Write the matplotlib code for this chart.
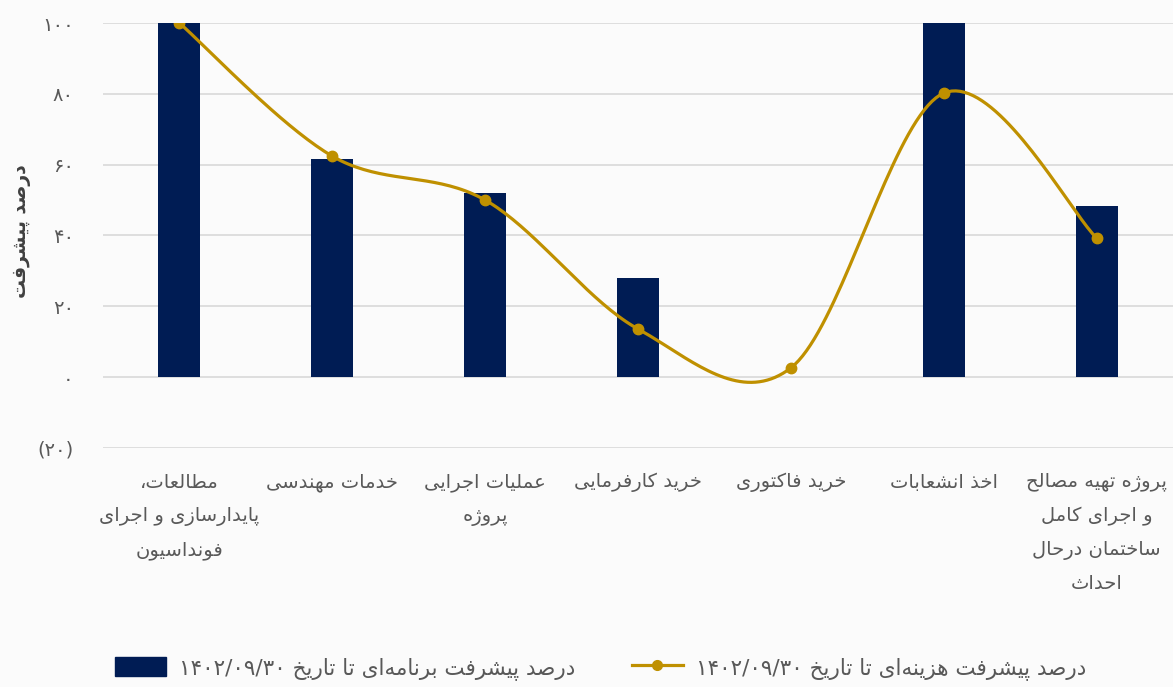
import numpy as np
import matplotlib
matplotlib.use('Agg')
import matplotlib.pyplot as plt
from matplotlib.lines import Line2D
from matplotlib.patches import Patch

# داده‌ها
categories = [
    'مطالعات،\nپایدارسازی و اجرای\nفونداسیون',
    'خدمات مهندسی',
    'عملیات اجرایی\nپروژه',
    'خرید کارفرمایی',
    'خرید فاکتوری',
    'اخذ انشعابات',
    'پروژه تهیه مصالح\nو اجرای کامل\nساختمان درحال\nاحداث',
]
plan_progress = [100, 61.6, 52, 28, 0, 100, 48.3]
cost_progress = [100, 62.4, 50, 13.6, 2.6, 80.2, 39.3]
y_ticks = [-20, 0, 20, 40, 60, 80, 100]
y_ticklabels = ['(۲۰)', '۰', '۲۰', '۴۰', '۶۰', '۸۰', '۱۰۰']
y_title = 'درصد پیشرفت'
legend_plan = 'درصد پیشرفت برنامه‌ای تا تاریخ ۱۴۰۲/۰۹/۳۰'
legend_cost = 'درصد پیشرفت هزینه‌ای تا تاریخ ۱۴۰۲/۰۹/۳۰'

# شکل‌دهی حروف فارسی (matplotlib خودش اتصال حروف را انجام نمی‌دهد)
FORMS = {
    'ا': (0xFE8D, 0xFE8E), 'آ': (0xFE81, 0xFE82),
    'د': (0xFEA9, 0xFEAA), 'ذ': (0xFEAB, 0xFEAC),
    'ر': (0xFEAD, 0xFEAE), 'ز': (0xFEAF, 0xFEB0),
    'ژ': (0xFB8A, 0xFB8B), 'و': (0xFEED, 0xFEEE),
    'ب': (0xFE8F, 0xFE90, 0xFE91, 0xFE92), 'پ': (0xFB56, 0xFB57, 0xFB58, 0xFB59),
    'ت': (0xFE95, 0xFE96, 0xFE97, 0xFE98), 'ث': (0xFE99, 0xFE9A, 0xFE9B, 0xFE9C),
    'ج': (0xFE9D, 0xFE9E, 0xFE9F, 0xFEA0), 'چ': (0xFB7A, 0xFB7B, 0xFB7C, 0xFB7D),
    'ح': (0xFEA1, 0xFEA2, 0xFEA3, 0xFEA4), 'خ': (0xFEA5, 0xFEA6, 0xFEA7, 0xFEA8),
    'س': (0xFEB1, 0xFEB2, 0xFEB3, 0xFEB4), 'ش': (0xFEB5, 0xFEB6, 0xFEB7, 0xFEB8),
    'ص': (0xFEB9, 0xFEBA, 0xFEBB, 0xFEBC), 'ض': (0xFEBD, 0xFEBE, 0xFEBF, 0xFEC0),
    'ط': (0xFEC1, 0xFEC2, 0xFEC3, 0xFEC4), 'ظ': (0xFEC5, 0xFEC6, 0xFEC7, 0xFEC8),
    'ع': (0xFEC9, 0xFECA, 0xFECB, 0xFECC), 'غ': (0xFECD, 0xFECE, 0xFECF, 0xFED0),
    'ف': (0xFED1, 0xFED2, 0xFED3, 0xFED4), 'ق': (0xFED5, 0xFED6, 0xFED7, 0xFED8),
    'ک': (0xFB8E, 0xFB8F, 0xFB90, 0xFB91), 'گ': (0xFB92, 0xFB93, 0xFB94, 0xFB95),
    'ل': (0xFEDD, 0xFEDE, 0xFEDF, 0xFEE0), 'م': (0xFEE1, 0xFEE2, 0xFEE3, 0xFEE4),
    'ن': (0xFEE5, 0xFEE6, 0xFEE7, 0xFEE8), 'ه': (0xFEE9, 0xFEEA, 0xFEEB, 0xFEEC),
    'ی': (0xFBFC, 0xFBFD, 0xFBFE, 0xFBFF), 'ئ': (0xFE89, 0xFE8A, 0xFE8B, 0xFE8C),
}
DIGITS = set('۰۱۲۳۴۵۶۷۸۹0123456789')


def shape_line(s):
    out = []
    for i, ch in enumerate(s):
        if ch not in FORMS:
            if ch != '\u200c':
                out.append(ch)
            continue
        prev = s[i - 1] if i > 0 else ''
        nxt = s[i + 1] if i + 1 < len(s) else ''
        join_prev = prev in FORMS and len(FORMS[prev]) == 4
        join_next = len(FORMS[ch]) == 4 and nxt in FORMS
        f = FORMS[ch]
        if join_prev and join_next:
            out.append(chr(f[3]))
        elif join_prev:
            out.append(chr(f[1]))
        elif join_next:
            out.append(chr(f[2]))
        else:
            out.append(chr(f[0]))
    # ترتیب نمایشی راست به چپ، اعداد چپ به راست می‌مانند
    tokens, i = [], 0
    while i < len(out):
        if out[i] in DIGITS:
            j = i
            while j < len(out) and (out[j] in DIGITS or (out[j] == '/' and j + 1 < len(out) and out[j + 1] in DIGITS)):
                j += 1
            tokens.append(''.join(out[i:j]))
            i = j
        else:
            tokens.append(out[i])
            i += 1
    return ''.join(reversed(tokens))


def fa(s):
    return '\n'.join(shape_line(line) for line in s.split('\n'))


def smooth(xs, ys, n=40):
    # منحنی هموار به سبک اکسل (کتمول-رام با بزیه)
    p = np.column_stack([xs, ys]).astype(float)
    p = np.vstack([p[0], p, p[-1]])
    pts = []
    t = np.linspace(0, 1, n)[:, None]
    for i in range(1, len(p) - 2):
        p0, p1, p2, p3 = p[i - 1], p[i], p[i + 1], p[i + 2]
        c1 = p1 + (p2 - p0) / 6
        c2 = p2 - (p3 - p1) / 6
        seg = (1 - t) ** 3 * p1 + 3 * (1 - t) ** 2 * t * c1 + 3 * (1 - t) * t ** 2 * c2 + t ** 3 * p2
        pts.append(seg)
    pts = np.vstack(pts)
    return pts[:, 0], pts[:, 1]


plt.rcParams['font.family'] = ['DejaVu Sans']
bg = '#fbfbfb'
navy = '#001c54'
gold = '#bf9000'
txt = '#595959'

fig = plt.figure(figsize=(11.73, 6.87), dpi=100, facecolor=bg)
ax = fig.add_axes([0.0878, 0.348, 0.9122, 0.6185], facecolor=bg)

x = np.arange(len(categories))
ax.bar(x, plan_progress, width=0.275, color=navy, zorder=2)
sx, sy = smooth(x, cost_progress)
ax.plot(sx, sy, color=gold, lw=2.3, zorder=3, solid_capstyle='round')
ax.plot(x, cost_progress, 'o', color=gold, ms=7.5, zorder=4)

ax.set_xlim(-0.5, len(categories) - 0.5)
ax.set_ylim(-20, 100)
ax.set_yticks(y_ticks)
ax.set_yticklabels(y_ticklabels, fontsize=14, color=txt)
ax.set_xticks(x)
ax.set_xticklabels([fa(c) for c in categories], fontsize=14, color=txt,
                   linespacing=1.95, va='top')
ax.tick_params(axis='y', length=0, pad=21)
ax.tick_params(axis='x', length=0, pad=18)
ax.grid(axis='y', color='#d9d9d9', lw=1.2, zorder=0)
ax.set_axisbelow(True)
for s in ax.spines.values():
    s.set_visible(False)
ax.set_ylabel(fa(y_title), fontsize=13.5, fontweight='bold', color='#404040')
ax.yaxis.set_label_coords(-0.067, 0.51)

handles = [
    Patch(facecolor=navy, edgecolor=navy),
    Line2D([0], [0], color=gold, lw=2.3, marker='o', ms=7),
]
fig.legend(handles, [fa(legend_plan), fa(legend_cost)], loc='center',
           bbox_to_anchor=(0.512, 0.027), ncol=2, frameon=False, fontsize=15.5,
           labelcolor=txt, handlelength=2.4, handleheight=1.0, columnspacing=2.6,
           handletextpad=0.6)

fig.savefig('out.png', dpi=100, facecolor=bg)
